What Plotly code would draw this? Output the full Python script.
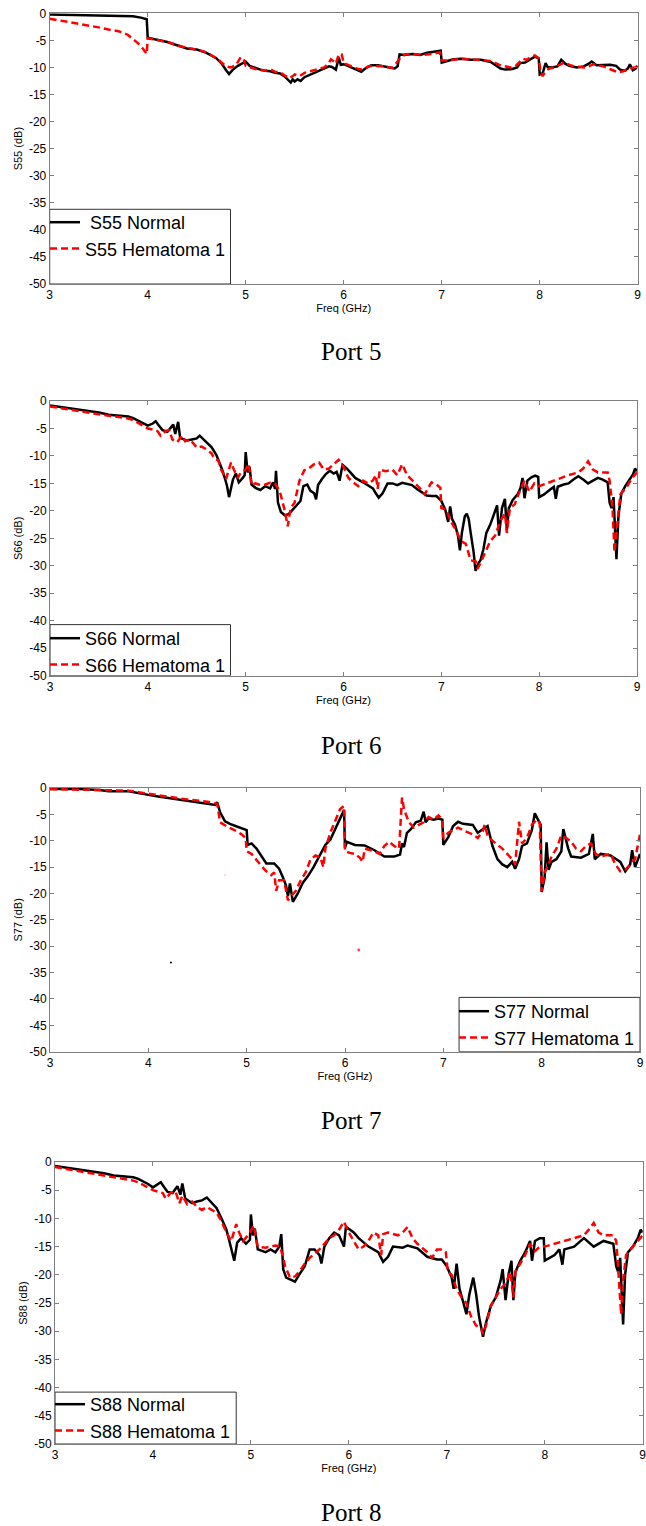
import plotly.graph_objects as go

# ---------------- data (freq GHz, dB) ----------------
s55_normal = [(3.0,-0.2),(3.15,-0.25),(3.3,-0.3),(3.5,-0.4),(3.7,-0.45),(3.85,-0.55),(3.93,-0.8),(3.99,-1.1),(4.0,-4.5),(4.05,-4.7),(4.1,-4.9),(4.2,-5.3),(4.3,-5.9),(4.4,-6.5),(4.5,-6.7),(4.6,-7.3),(4.7,-8.3),(4.76,-9.4),(4.8,-10.5),(4.83,-11.2),(4.87,-10.4),(4.92,-9.7),(4.97,-9.2),(5.0,-8.9),(5.04,-9.7),(5.1,-10.1),(5.15,-10.4),(5.2,-10.6),(5.25,-10.7),(5.3,-11.0),(5.35,-11.1),(5.4,-11.7),(5.43,-12.3),(5.46,-12.8),(5.48,-12.2),(5.5,-12.6),(5.53,-12.2),(5.56,-12.5),(5.6,-11.8),(5.65,-11.4),(5.7,-11.0),(5.75,-10.7),(5.8,-10.3),(5.85,-9.8),(5.88,-9.9),(5.92,-10.4),(5.95,-8.2),(5.97,-9.5),(6.0,-9.4),(6.05,-9.8),(6.1,-10.1),(6.15,-10.5),(6.18,-10.8),(6.22,-10.2),(6.28,-9.6),(6.35,-9.6),(6.42,-9.8),(6.48,-10.1),(6.52,-10.2),(6.55,-9.8),(6.57,-7.6),(6.62,-7.7),(6.7,-7.5),(6.78,-7.7),(6.85,-7.3),(6.92,-7.1),(6.99,-6.9),(7.0,-9.1),(7.05,-8.8),(7.12,-8.5),(7.2,-8.4),(7.3,-8.6),(7.4,-8.6),(7.5,-9.0),(7.55,-9.6),(7.6,-10.2),(7.65,-10.4),(7.72,-10.3),(7.77,-10.0),(7.8,-9.2),(7.85,-9.1),(7.9,-8.6),(7.95,-8.0),(7.99,-8.3),(8.0,-11.3),(8.03,-11.1),(8.06,-9.2),(8.08,-9.9),(8.12,-10.0),(8.18,-9.8),(8.22,-8.6),(8.26,-9.3),(8.3,-9.7),(8.38,-10.0),(8.45,-9.8),(8.5,-9.3),(8.53,-8.9),(8.58,-9.6),(8.65,-9.6),(8.72,-9.5),(8.78,-9.7),(8.82,-10.4),(8.87,-10.6),(8.9,-10.2),(8.92,-9.4),(8.95,-10.5),(8.98,-10.2),(9.0,-9.7)]

s55_hematoma = [(3.0,-1.0),(3.1,-1.3),(3.2,-1.6),(3.3,-1.9),(3.4,-2.2),(3.5,-2.6),(3.6,-3.0),(3.7,-3.3),(3.75,-3.6),(3.8,-4.0),(3.85,-4.8),(3.9,-5.5),(3.95,-6.5),(3.99,-7.5),(4.0,-4.6),(4.1,-4.9),(4.2,-5.3),(4.3,-5.9),(4.4,-6.4),(4.5,-6.7),(4.6,-7.2),(4.7,-8.3),(4.75,-9.0),(4.8,-9.8),(4.85,-10.0),(4.9,-9.6),(4.95,-8.1),(4.98,-8.6),(5.0,-9.7),(5.1,-10.3),(5.2,-10.6),(5.25,-10.3),(5.3,-10.8),(5.35,-10.9),(5.4,-11.5),(5.45,-12.0),(5.48,-11.6),(5.5,-11.3),(5.55,-11.6),(5.6,-11.0),(5.7,-10.5),(5.8,-10.0),(5.84,-9.4),(5.87,-8.5),(5.9,-8.9),(5.92,-9.3),(5.95,-7.6),(5.98,-7.6),(6.0,-9.2),(6.05,-9.6),(6.1,-10.0),(6.15,-10.3),(6.2,-10.4),(6.25,-9.8),(6.3,-9.7),(6.4,-9.8),(6.5,-10.1),(6.55,-8.8),(6.58,-8.2),(6.62,-7.6),(6.7,-7.5),(6.8,-7.7),(6.9,-7.5),(6.98,-7.2),(7.0,-8.7),(7.05,-8.7),(7.1,-8.6),(7.2,-8.4),(7.3,-8.5),(7.4,-8.6),(7.5,-8.8),(7.6,-9.6),(7.7,-10.0),(7.75,-9.8),(7.78,-9.3),(7.83,-8.4),(7.87,-8.6),(7.9,-8.2),(7.95,-7.8),(7.99,-8.3),(8.01,-11.0),(8.03,-11.6),(8.06,-10.6),(8.1,-10.2),(8.15,-10.0),(8.2,-9.5),(8.25,-9.1),(8.3,-9.5),(8.35,-9.8),(8.45,-10.0),(8.5,-9.8),(8.55,-9.4),(8.6,-9.6),(8.65,-9.8),(8.7,-10.2),(8.75,-10.6),(8.8,-10.9),(8.85,-10.7),(8.9,-10.4),(8.95,-10.2),(9.0,-9.8)]

s66_normal = [(3.0,-0.8),(3.1,-1.05),(3.2,-1.3),(3.3,-1.55),(3.4,-1.8),(3.5,-2.1),(3.6,-2.5),(3.7,-2.6),(3.8,-2.8),(3.85,-3.1),(3.9,-3.6),(3.95,-4.0),(4.0,-4.5),(4.05,-4.1),(4.08,-3.7),(4.11,-4.4),(4.15,-5.3),(4.2,-5.6),(4.24,-4.6),(4.26,-4.3),(4.28,-6.0),(4.31,-3.8),(4.33,-6.7),(4.37,-7.0),(4.4,-7.2),(4.45,-7.0),(4.5,-6.8),(4.53,-6.3),(4.56,-6.8),(4.6,-7.5),(4.65,-8.4),(4.7,-9.8),(4.73,-11.0),(4.76,-12.5),(4.79,-14.2),(4.81,-15.5),(4.83,-17.5),(4.85,-16.0),(4.87,-14.3),(4.9,-13.2),(4.93,-14.8),(4.97,-14.0),(4.99,-13.5),(5.0,-9.3),(5.02,-13.0),(5.04,-12.0),(5.06,-15.2),(5.1,-15.8),(5.15,-16.2),(5.2,-15.5),(5.25,-15.9),(5.28,-14.8),(5.3,-16.0),(5.31,-12.7),(5.33,-18.5),(5.36,-20.2),(5.4,-20.8),(5.44,-20.6),(5.48,-19.8),(5.52,-19.0),(5.56,-18.2),(5.59,-15.5),(5.63,-15.2),(5.66,-16.3),(5.7,-16.8),(5.72,-17.9),(5.74,-15.3),(5.78,-14.2),(5.82,-13.3),(5.86,-12.7),(5.9,-13.2),(5.93,-12.9),(5.96,-14.5),(5.99,-11.6),(6.03,-12.2),(6.07,-13.0),(6.12,-14.0),(6.2,-14.8),(6.25,-15.3),(6.3,-15.9),(6.33,-16.8),(6.36,-17.6),(6.4,-16.8),(6.45,-15.0),(6.5,-15.0),(6.55,-15.3),(6.6,-14.9),(6.65,-15.1),(6.7,-15.3),(6.75,-16.0),(6.8,-16.6),(6.85,-17.2),(6.9,-17.3),(6.95,-17.3),(7.0,-18.2),(7.04,-19.8),(7.07,-22.0),(7.09,-19.2),(7.11,-21.5),(7.14,-22.5),(7.17,-24.5),(7.19,-27.2),(7.21,-24.0),(7.24,-21.0),(7.26,-20.5),(7.28,-21.5),(7.3,-24.0),(7.33,-27.5),(7.35,-30.9),(7.38,-29.5),(7.4,-29.0),(7.43,-27.0),(7.46,-24.0),(7.5,-22.5),(7.54,-20.5),(7.57,-19.0),(7.59,-24.5),(7.62,-19.5),(7.65,-17.8),(7.67,-23.5),(7.69,-19.5),(7.73,-18.0),(7.78,-17.0),(7.81,-15.8),(7.83,-14.0),(7.85,-17.7),(7.88,-14.5),(7.92,-13.9),(7.96,-13.6),(7.99,-13.8),(8.0,-17.5),(8.05,-17.0),(8.1,-16.3),(8.15,-15.6),(8.17,-17.8),(8.19,-15.6),(8.25,-15.2),(8.3,-15.0),(8.35,-14.3),(8.4,-13.7),(8.45,-14.3),(8.5,-15.0),(8.55,-14.5),(8.6,-14.0),(8.65,-14.3),(8.7,-14.8),(8.72,-18.5),(8.74,-19.5),(8.76,-17.5),(8.78,-24.0),(8.79,-28.8),(8.81,-21.0),(8.84,-16.8),(8.88,-15.5),(8.92,-14.5),(8.96,-13.3),(8.98,-12.3),(9.0,-12.8)]

s66_hematoma = [(3.0,-1.0),(3.1,-1.3),(3.2,-1.6),(3.3,-1.85),(3.4,-2.1),(3.5,-2.4),(3.6,-2.7),(3.7,-2.9),(3.8,-3.2),(3.85,-3.5),(3.9,-4.0),(3.95,-4.5),(4.0,-5.0),(4.05,-5.2),(4.1,-5.5),(4.13,-6.3),(4.18,-5.5),(4.22,-5.3),(4.25,-7.0),(4.3,-7.5),(4.35,-6.3),(4.38,-7.3),(4.43,-7.0),(4.47,-7.8),(4.5,-8.5),(4.55,-8.3),(4.6,-8.8),(4.65,-9.5),(4.68,-10.5),(4.72,-10.8),(4.75,-12.5),(4.8,-14.2),(4.83,-12.5),(4.85,-11.2),(4.88,-12.5),(4.92,-14.0),(4.95,-13.0),(5.0,-12.5),(5.03,-11.4),(5.06,-15.3),(5.1,-15.0),(5.15,-15.3),(5.2,-15.2),(5.25,-14.9),(5.3,-15.0),(5.35,-16.5),(5.4,-20.0),(5.43,-22.8),(5.46,-19.5),(5.5,-18.5),(5.55,-14.5),(5.6,-12.6),(5.65,-12.2),(5.7,-11.5),(5.75,-11.2),(5.8,-12.5),(5.85,-12.3),(5.9,-11.5),(5.95,-10.7),(6.0,-12.0),(6.05,-14.0),(6.1,-14.8),(6.15,-15.5),(6.2,-14.5),(6.25,-15.0),(6.3,-14.5),(6.33,-13.5),(6.35,-16.0),(6.37,-12.5),(6.43,-12.8),(6.5,-12.5),(6.55,-13.5),(6.6,-11.5),(6.65,-13.5),(6.7,-14.5),(6.75,-15.3),(6.8,-16.2),(6.83,-17.0),(6.87,-15.7),(6.9,-14.8),(6.95,-15.2),(6.99,-15.8),(7.0,-19.5),(7.05,-19.8),(7.1,-22.0),(7.15,-23.5),(7.2,-25.5),(7.25,-26.0),(7.3,-29.0),(7.35,-29.2),(7.37,-30.5),(7.4,-29.5),(7.45,-27.5),(7.5,-25.5),(7.55,-24.5),(7.6,-22.0),(7.65,-20.5),(7.67,-24.0),(7.7,-19.5),(7.75,-18.8),(7.8,-16.5),(7.85,-14.5),(7.9,-16.5),(7.95,-15.0),(8.0,-15.5),(8.1,-14.8),(8.2,-14.2),(8.3,-13.5),(8.4,-13.0),(8.45,-12.3),(8.5,-11.0),(8.55,-12.5),(8.6,-13.0),(8.7,-13.0),(8.72,-14.5),(8.75,-19.5),(8.77,-27.5),(8.8,-21.5),(8.83,-17.0),(8.9,-15.5),(8.95,-14.0),(9.0,-13.0)]

s77_normal = [(3.0,-0.2),(3.3,-0.2),(3.5,-0.4),(3.6,-0.6),(3.8,-0.6),(3.9,-1.0),(4.0,-1.3),(4.1,-1.6),(4.2,-1.9),(4.3,-2.1),(4.4,-2.4),(4.5,-2.8),(4.6,-3.0),(4.68,-3.2),(4.7,-2.7),(4.73,-4.6),(4.78,-6.3),(4.83,-6.8),(4.9,-7.3),(4.97,-7.8),(5.0,-8.0),(5.01,-10.8),(5.05,-10.5),(5.1,-11.5),(5.15,-13.0),(5.2,-14.3),(5.28,-14.3),(5.33,-15.3),(5.37,-17.0),(5.4,-18.5),(5.42,-20.5),(5.44,-18.1),(5.47,-21.6),(5.52,-20.0),(5.57,-18.0),(5.62,-16.8),(5.68,-15.0),(5.72,-13.5),(5.75,-12.5),(5.8,-10.8),(5.85,-9.8),(5.9,-7.8),(5.95,-6.0),(5.99,-4.2),(6.0,-11.3),(6.02,-10.2),(6.1,-10.8),(6.2,-10.9),(6.3,-11.8),(6.4,-13.0),(6.5,-13.0),(6.56,-12.6),(6.58,-10.5),(6.6,-11.2),(6.63,-8.5),(6.67,-7.8),(6.72,-6.5),(6.77,-6.2),(6.8,-4.5),(6.82,-6.5),(6.85,-5.8),(6.9,-6.0),(6.95,-5.8),(6.99,-6.0),(7.0,-10.8),(7.05,-9.3),(7.1,-7.2),(7.15,-6.4),(7.2,-6.8),(7.3,-7.0),(7.35,-8.5),(7.4,-7.8),(7.45,-7.2),(7.5,-11.0),(7.55,-13.5),(7.6,-14.5),(7.65,-15.0),(7.7,-14.0),(7.73,-15.3),(7.77,-13.5),(7.8,-11.0),(7.85,-10.5),(7.9,-8.0),(7.93,-4.8),(7.97,-6.5),(7.99,-7.0),(8.0,-19.7),(8.03,-17.0),(8.05,-10.3),(8.07,-15.5),(8.1,-14.0),(8.15,-13.5),(8.2,-12.0),(8.22,-7.8),(8.27,-11.5),(8.3,-13.0),(8.4,-13.2),(8.48,-12.5),(8.52,-8.7),(8.54,-13.5),(8.6,-12.5),(8.7,-12.8),(8.8,-14.0),(8.85,-15.8),(8.9,-14.5),(8.92,-11.8),(8.95,-15.0),(9.0,-12.5)]

s77_hematoma = [(3.0,-0.2),(3.3,-0.3),(3.6,-0.5),(3.8,-0.5),(3.9,-0.8),(4.0,-1.1),(4.2,-1.6),(4.4,-2.2),(4.6,-2.6),(4.7,-3.0),(4.73,-6.5),(4.8,-7.3),(4.9,-8.2),(4.95,-8.8),(4.99,-9.5),(5.0,-12.0),(5.05,-12.5),(5.1,-13.7),(5.15,-14.8),(5.2,-15.8),(5.25,-16.5),(5.28,-16.0),(5.3,-19.5),(5.33,-17.5),(5.38,-17.5),(5.42,-21.3),(5.45,-20.5),(5.5,-19.5),(5.55,-17.5),(5.6,-16.0),(5.65,-13.5),(5.7,-12.8),(5.75,-13.2),(5.78,-15.0),(5.8,-11.5),(5.85,-8.5),(5.9,-6.3),(5.95,-4.0),(5.99,-3.4),(6.0,-12.0),(6.05,-12.3),(6.1,-12.5),(6.15,-13.2),(6.18,-14.0),(6.2,-11.5),(6.3,-12.0),(6.35,-12.5),(6.4,-11.0),(6.45,-10.2),(6.5,-11.0),(6.55,-11.5),(6.57,-4.5),(6.58,-1.8),(6.6,-4.0),(6.65,-6.5),(6.7,-7.5),(6.75,-7.0),(6.8,-6.5),(6.85,-5.5),(6.9,-6.0),(6.95,-5.2),(6.99,-6.0),(7.0,-9.5),(7.05,-8.5),(7.1,-8.0),(7.15,-7.5),(7.2,-8.0),(7.3,-8.8),(7.35,-9.5),(7.4,-8.2),(7.42,-7.0),(7.45,-9.0),(7.5,-10.0),(7.6,-11.5),(7.7,-13.5),(7.73,-14.5),(7.77,-6.4),(7.8,-10.5),(7.85,-9.5),(7.9,-7.0),(7.95,-6.0),(7.98,-6.5),(8.0,-19.5),(8.03,-16.0),(8.07,-14.5),(8.1,-13.0),(8.15,-11.5),(8.2,-9.0),(8.25,-9.5),(8.3,-10.2),(8.35,-11.5),(8.4,-12.0),(8.45,-11.0),(8.5,-10.5),(8.55,-12.5),(8.6,-13.0),(8.7,-12.5),(8.75,-14.5),(8.8,-15.8),(8.85,-15.5),(8.9,-14.5),(8.95,-13.5),(9.0,-8.8)]

# isolated stray points visible in the Port 7 panel
s77_stray_normal = [(4.23,-33.1)]
s77_stray_hematoma = [(4.78,-16.5),(6.14,-30.7)]

s88_normal = [(3.0,-0.7),(3.1,-0.95),(3.2,-1.2),(3.3,-1.45),(3.4,-1.7),(3.5,-2.0),(3.6,-2.4),(3.7,-2.55),(3.8,-2.7),(3.85,-3.0),(3.9,-3.4),(3.95,-3.9),(4.0,-4.5),(4.05,-4.0),(4.08,-3.6),(4.12,-4.6),(4.15,-5.3),(4.2,-5.5),(4.25,-4.3),(4.28,-5.8),(4.3,-3.8),(4.33,-6.5),(4.4,-7.3),(4.45,-7.0),(4.5,-6.8),(4.55,-6.3),(4.6,-7.3),(4.65,-8.2),(4.7,-10.0),(4.75,-12.0),(4.78,-14.0),(4.8,-15.5),(4.83,-17.5),(4.86,-14.3),(4.9,-13.5),(4.95,-14.5),(4.99,-13.8),(5.0,-9.3),(5.02,-13.0),(5.04,-11.8),(5.07,-15.5),(5.15,-16.0),(5.2,-15.5),(5.25,-16.0),(5.29,-15.0),(5.31,-12.8),(5.33,-19.0),(5.36,-20.5),(5.4,-20.8),(5.45,-21.2),(5.5,-19.8),(5.55,-18.5),(5.6,-15.5),(5.65,-15.5),(5.7,-16.5),(5.72,-18.0),(5.75,-15.0),(5.8,-13.5),(5.85,-12.5),(5.9,-13.0),(5.95,-15.0),(5.97,-11.5),(6.05,-12.5),(6.1,-13.5),(6.2,-15.0),(6.3,-16.0),(6.35,-17.7),(6.4,-16.8),(6.45,-15.0),(6.55,-15.2),(6.6,-14.8),(6.7,-15.3),(6.8,-16.8),(6.9,-17.3),(6.95,-17.3),(7.0,-18.5),(7.05,-20.5),(7.07,-22.5),(7.1,-18.0),(7.13,-22.5),(7.17,-25.0),(7.2,-27.0),(7.23,-23.5),(7.27,-20.5),(7.3,-23.5),(7.33,-27.5),(7.37,-31.0),(7.4,-28.5),(7.45,-25.5),(7.5,-24.0),(7.55,-21.0),(7.57,-19.0),(7.6,-24.5),(7.63,-20.0),(7.66,-17.5),(7.68,-24.5),(7.7,-19.5),(7.75,-17.5),(7.8,-16.0),(7.85,-14.0),(7.87,-17.5),(7.9,-14.0),(7.95,-13.5),(7.99,-13.5),(8.0,-17.5),(8.1,-16.5),(8.15,-15.5),(8.18,-18.2),(8.2,-15.5),(8.3,-15.0),(8.4,-13.5),(8.5,-15.0),(8.6,-14.0),(8.7,-14.5),(8.73,-18.5),(8.75,-19.5),(8.77,-17.0),(8.8,-28.8),(8.82,-20.0),(8.85,-16.0),(8.9,-15.0),(8.95,-13.5),(8.98,-12.0),(9.0,-12.5)]

s88_hematoma = [(3.0,-0.9),(3.1,-1.2),(3.2,-1.5),(3.3,-1.75),(3.4,-2.0),(3.5,-2.35),(3.6,-2.7),(3.7,-2.95),(3.8,-3.3),(3.85,-3.6),(3.9,-4.0),(3.95,-4.5),(4.0,-5.0),(4.1,-5.5),(4.13,-6.5),(4.18,-5.5),(4.23,-5.2),(4.27,-7.3),(4.3,-6.0),(4.35,-7.5),(4.4,-7.0),(4.45,-8.0),(4.5,-8.5),(4.55,-8.0),(4.6,-8.5),(4.65,-9.0),(4.7,-10.5),(4.75,-12.5),(4.8,-14.0),(4.85,-11.0),(4.88,-12.5),(4.92,-14.0),(4.97,-13.0),(5.03,-11.3),(5.07,-15.0),(5.15,-15.2),(5.25,-14.8),(5.3,-15.0),(5.35,-18.5),(5.4,-20.5),(5.45,-20.3),(5.5,-19.3),(5.55,-18.0),(5.6,-17.0),(5.7,-15.5),(5.75,-14.5),(5.8,-13.5),(5.85,-13.0),(5.9,-12.0),(5.95,-10.6),(6.0,-12.5),(6.05,-14.0),(6.1,-15.5),(6.15,-15.0),(6.2,-14.0),(6.25,-12.5),(6.3,-13.0),(6.33,-16.5),(6.35,-12.8),(6.4,-12.5),(6.5,-13.0),(6.55,-12.5),(6.6,-11.5),(6.65,-13.5),(6.7,-14.5),(6.8,-16.0),(6.85,-17.0),(6.9,-15.5),(6.95,-15.5),(6.99,-16.0),(7.01,-19.5),(7.05,-20.0),(7.1,-22.5),(7.15,-24.0),(7.2,-25.0),(7.25,-27.5),(7.3,-29.0),(7.35,-29.5),(7.37,-30.5),(7.4,-29.0),(7.45,-25.5),(7.5,-24.0),(7.55,-22.5),(7.6,-21.5),(7.65,-19.5),(7.68,-24.0),(7.7,-19.5),(7.75,-18.0),(7.8,-16.5),(7.85,-14.5),(7.9,-15.8),(7.95,-15.0),(8.0,-15.0),(8.1,-14.5),(8.2,-14.0),(8.3,-13.5),(8.4,-13.0),(8.45,-12.0),(8.5,-10.8),(8.55,-12.5),(8.6,-13.0),(8.7,-13.0),(8.73,-14.0),(8.75,-19.0),(8.78,-27.0),(8.8,-21.0),(8.83,-16.5),(8.9,-15.0),(8.95,-14.0),(9.0,-13.0)]

series_normal = [s55_normal, s66_normal, s77_normal, s88_normal]
series_hematoma = [s55_hematoma, s66_hematoma, s77_hematoma, s88_hematoma]
normal_names = [" S55 Normal", "S66 Normal", "S77 Normal", "S88 Normal"]
hematoma_names = ["S55 Hematoma 1", "S66 Hematoma 1", "S77 Hematoma 1", "S88 Hematoma 1"]
y_titles = ["S55 (dB)", "S66 (dB)", "S77 (dB)", "S88 (dB)"]
captions = ["Port 5", "Port 6", "Port 7", "Port 8"]
x_ticks = [3, 4, 5, 6, 7, 8, 9]
y_ticks = [0, -5, -10, -15, -20, -25, -30, -35, -40, -45, -50]

# ---------------- layout geometry (pixels) ----------------
W, H = 646, 1526
boxes = [  # left, right, top, bottom in px
    (49.7, 637.7, 13.3, 284.0),
    (50.0, 637.0, 401.0, 675.7),
    (50.0, 640.0, 788.0, 1051.7),
    (55.0, 642.7, 1162.0, 1444.0),
]
legend_boxes = [  # x0, x1, y0, y1 in data units
    (3.0, 4.845, -50, -36.2),
    (3.0, 4.845, -50, -40.7),
    (7.16, 9.0, -50, -39.7),
    (3.0, 4.85, -50, -40.8),
]
legend_tops_px = [204, 620, 993, 1386]
legend_left_px = [45, 45, 454, 50]
caption_y_px = [352, 745, 1120, 1512]

AX = "#808080"
FONT = "Liberation Sans, Arial, sans-serif"

fig = go.Figure()
layout = dict(
    width=W, height=H, margin=dict(l=0, r=0, t=0, b=0, autoexpand=False),
    paper_bgcolor="white", plot_bgcolor="white", shapes=[], annotations=[],
    font=dict(family=FONT, color="black"),
)

for i in range(4):
    k = "" if i == 0 else str(i + 1)
    xa, ya = "x" + k, "y" + k
    lg = "legend" + k
    n = series_normal[i]
    h = series_hematoma[i]
    fig.add_trace(go.Scatter(
        x=[p[0] for p in n], y=[p[1] for p in n], mode="lines",
        name=normal_names[i], xaxis=xa, yaxis=ya, legend=lg,
        line=dict(color="black", width=2.5)))
    fig.add_trace(go.Scatter(
        x=[p[0] for p in h], y=[p[1] for p in h], mode="lines",
        name=hematoma_names[i], xaxis=xa, yaxis=ya, legend=lg,
        line=dict(color="#ff0000", width=2.5, dash="7px,4px")))

    l, r, t, b = boxes[i]
    layout["xaxis" + k] = dict(
        domain=[l / W, r / W], anchor=ya, range=[3, 9],
        tickvals=x_ticks, ticktext=[str(v) for v in x_ticks],
        ticks="inside", ticklen=4, tickcolor=AX, showline=True, linecolor=AX,
        linewidth=1, mirror="ticks", showgrid=False, zeroline=False,
        ticklabeloverflow="allow",
        tickfont=dict(size=12, family=FONT, color="black"),
        title=dict(text="Freq (GHz)", font=dict(size=11, family=FONT), standoff=2),
    )
    layout["yaxis" + k] = dict(
        domain=[1 - b / H, 1 - t / H], anchor=xa, range=[-50, 0],
        tickvals=y_ticks, ticktext=[str(v) for v in y_ticks],
        ticks="inside", ticklen=4, tickcolor=AX, showline=True, linecolor=AX,
        linewidth=1, mirror="ticks", showgrid=False, zeroline=False,
        ticklabeloverflow="allow",
        tickfont=dict(size=12, family=FONT, color="black"),
        title=dict(text=y_titles[i], font=dict(size=11, family=FONT), standoff=4),
    )
    x0, x1, y0, y1 = legend_boxes[i]
    layout["shapes"].append(dict(
        type="rect", xref=xa, yref=ya, x0=x0, x1=x1, y0=y0, y1=y1,
        line=dict(color="#333333", width=1), fillcolor="white", layer="above"))
    layout[lg] = dict(
        x=legend_left_px[i] / W, y=1 - legend_tops_px[i] / H,
        xanchor="left", yanchor="top", bgcolor="rgba(0,0,0,0)", borderwidth=0,
        font=dict(size=18, family=FONT, color="black"), tracegroupgap=0,
        itemwidth=30,
    )
    layout["annotations"].append(dict(
        text=captions[i], xref="paper", yref="paper", x=351 / W,
        y=1 - caption_y_px[i] / H, xanchor="center", yanchor="middle",
        showarrow=False, font=dict(size=25, family="Liberation Serif, Times New Roman, serif", color="black")))

# stray points in the Port 7 panel
fig.add_trace(go.Scatter(
    x=[p[0] for p in s77_stray_normal], y=[p[1] for p in s77_stray_normal],
    mode="markers", xaxis="x3", yaxis="y3", showlegend=False,
    marker=dict(color="black", size=2)))
fig.add_trace(go.Scatter(
    x=[p[0] for p in s77_stray_hematoma], y=[p[1] for p in s77_stray_hematoma],
    mode="markers", xaxis="x3", yaxis="y3", showlegend=False,
    marker=dict(color="#ff0000", size=[2, 4])))

fig.update_layout(**layout)
fig.write_html("out.html", config={"displayModeBar": False},
               post_script="document.body.style.margin='0';document.body.style.overflow='hidden';")
